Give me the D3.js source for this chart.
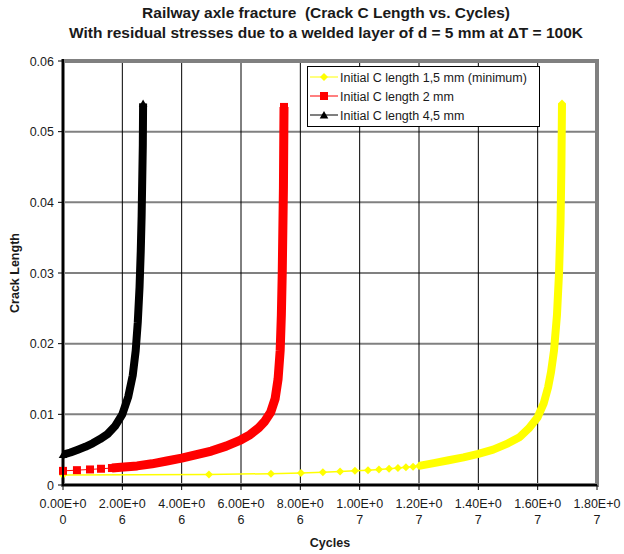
<!DOCTYPE html>
<html lang="en">
<head>
    <meta charset="UTF-8">
    <title>Railway axle fracture</title>
    <script src="https://d3js.org/d3.v7.js"></script>
    <style>
        body { margin: 0; background: white; }
        svg text { font-family: "Liberation Sans", Arial, sans-serif; fill: #1a1a1a; }
    </style>
</head>
<body>

<svg id="chart" width="624" height="554"></svg>

<script>

// Chart data (cycles, crack length)
var titleLines = ["Railway axle fracture  (Crack C Length vs. Cycles)",
                  "With residual stresses due to a welded layer of d = 5 mm at \u0394T = 100K"];

var yTicks = [0, 0.01, 0.02, 0.03, 0.04, 0.05, 0.06];
var yTickLabels = ["0", "0.01", "0.02", "0.03", "0.04", "0.05", "0.06"];
var xTicks = [0, 2e6, 4e6, 6e6, 8e6, 1e7, 1.2e7, 1.4e7, 1.6e7, 1.8e7];
var xTickLabels = [["0.00E+0", "0"], ["2.00E+0", "6"], ["4.00E+0", "6"], ["6.00E+0", "6"], ["8.00E+0", "6"],
                   ["1.00E+0", "7"], ["1.20E+0", "7"], ["1.40E+0", "7"], ["1.60E+0", "7"], ["1.80E+0", "7"]];

var seriesNames = ["Initial C length 1,5 mm (minimum)", "Initial C length 2 mm", "Initial C length 4,5 mm"];

// 1,5 mm : separate markers first, then the packed part
var yellowSparse = [[0, 0.0014], [4.92e6, 0.0015], [7.01e6, 0.0016], [8.02e6, 0.0017], [8.76e6, 0.0018],
                    [9.34e6, 0.0019], [9.84e6, 0.0020], [10.28e6, 0.0021], [10.65e6, 0.0022], [10.99e6, 0.0023],
                    [11.29e6, 0.0024], [11.56e6, 0.0025], [11.80e6, 0.0026], [12.0e6, 0.0027]];
var yellowDense = [[12.0e6, 0.0027], [12.5e6, 0.0031], [13.0e6, 0.0035], [13.5e6, 0.0039], [14.0e6, 0.0044],
                   [14.5e6, 0.0050], [15.0e6, 0.0059], [15.4e6, 0.0068], [15.7e6, 0.0080], [16.0e6, 0.0096],
                   [16.2e6, 0.0115], [16.35e6, 0.0138], [16.45e6, 0.0160], [16.55e6, 0.019], [16.65e6, 0.024],
                   [16.72e6, 0.030], [16.77e6, 0.037], [16.80e6, 0.045], [16.82e6, 0.054]];

// 2 mm
var redSparse = [[0, 0.0020], [0.47e6, 0.0021], [0.91e6, 0.0022], [1.28e6, 0.0023], [1.65e6, 0.0024]];
var redDense = [[1.65e6, 0.0024], [1.95e6, 0.0025], [2.5e6, 0.0027], [3.0e6, 0.0030], [3.5e6, 0.0034],
                [4.0e6, 0.0038], [4.5e6, 0.0043], [5.0e6, 0.0048], [5.5e6, 0.0055], [6.0e6, 0.0064],
                [6.3e6, 0.0071], [6.6e6, 0.0081], [6.8e6, 0.0090], [7.0e6, 0.0103], [7.15e6, 0.0122],
                [7.25e6, 0.0150], [7.32e6, 0.019], [7.36e6, 0.024], [7.39e6, 0.030], [7.41e6, 0.036],
                [7.43e6, 0.042], [7.44e6, 0.048], [7.45e6, 0.0535]];

// 4,5 mm (packed all the way)
var blackSparse = [[0, 0.0043]];
var blackDense = [[0, 0.0043], [0.25e6, 0.0046], [0.5e6, 0.0050], [0.75e6, 0.0054], [1.0e6, 0.0059],
                  [1.25e6, 0.0065], [1.5e6, 0.0072], [1.75e6, 0.0083], [2.0e6, 0.0100], [2.2e6, 0.0125],
                  [2.35e6, 0.0155], [2.45e6, 0.019], [2.52e6, 0.023], [2.58e6, 0.028], [2.62e6, 0.033],
                  [2.65e6, 0.038], [2.67e6, 0.043], [2.69e6, 0.048], [2.70e6, 0.054]];

// The svg
var svg = d3.select("#chart");
var plotLeft = 63, plotRight = 597, plotTop = 61, plotBottom = 485;

var x = d3.scaleLinear().domain([0, 1.8e7]).range([plotLeft, plotRight]);
var y = d3.scaleLinear().domain([0, 0.06]).range([plotBottom, plotTop]);

// Title
svg.selectAll("text.title")
    .data(titleLines)
    .enter()
    .append("text")
      .attr("class", "title")
      .attr("x", 326)
      .attr("y", function (d, i) { return 18 + i * 20; })
      .attr("text-anchor", "middle")
      .style("white-space", "pre")
      .style("font-size", "15.5px")
      .style("font-weight", "bold")
      .text(function (d) { return d; });

// Grid lines: horizontal grey, vertical black
svg.append("g")
    .selectAll("line")
    .data(yTicks.slice(1))
    .enter()
    .append("line")
      .attr("x1", plotLeft).attr("x2", plotRight)
      .attr("y1", function (d) { return y(d); })
      .attr("y2", function (d) { return y(d); })
      .attr("stroke", "#808080")
      .attr("stroke-width", 2);

svg.append("g")
    .selectAll("line")
    .data(xTicks.slice(1, -1))
    .enter()
    .append("line")
      .attr("x1", function (d) { return x(d); })
      .attr("x2", function (d) { return x(d); })
      .attr("y1", plotTop).attr("y2", plotBottom)
      .attr("stroke", "black")
      .attr("stroke-width", 1);

// Grey plot frame (top and right show)
svg.append("rect")
    .attr("x", plotLeft).attr("y", plotTop)
    .attr("width", plotRight - plotLeft).attr("height", plotBottom - plotTop)
    .attr("fill", "none")
    .attr("stroke", "#808080")
    .attr("stroke-width", 4);

// Series
var line = d3.line()
    .x(function (d) { return x(d[0]); })
    .y(function (d) { return y(d[1]); });

var series = [
    {name: seriesNames[0], color: "#ffff00", sparse: yellowSparse, dense: yellowDense, shape: "diamond", band: 8, thin: 1.5},
    {name: seriesNames[1], color: "#ff0000", sparse: redSparse, dense: redDense, shape: "square", band: 9, thin: 1},
    {name: seriesNames[2], color: "#000000", sparse: blackSparse, dense: blackDense, shape: "triangle", band: 8, thin: 1}
];

function markerPath(shape) {
    if (shape === "square") return d3.symbol(d3.symbolSquare, 64)();
    if (shape === "triangle") return d3.symbol(d3.symbolTriangle, 32)();
    return d3.symbol(d3.symbolSquare, 32)();
}

function markerTransform(shape, px, py) {
    if (shape === "diamond") return "translate(" + px + "," + py + ") rotate(45)";
    if (shape === "triangle") return "translate(" + px + "," + (py + 1) + ")";
    return "translate(" + px + "," + py + ")";
}

series.forEach(function (s) {
    var g = svg.append("g");
    // thin connecting line through the separate markers
    g.append("path")
        .attr("d", line(s.sparse))
        .attr("fill", "none")
        .attr("stroke", s.color)
        .attr("stroke-width", s.thin);
    // packed markers make a solid band
    g.append("path")
        .attr("d", line(s.dense))
        .attr("fill", "none")
        .attr("stroke", s.color)
        .attr("stroke-width", s.band)
        .attr("stroke-linejoin", "round");
    g.selectAll("path.mk")
        .data(s.sparse.concat(s.dense.slice(-1)))
        .enter()
        .append("path")
          .attr("class", "mk")
          .attr("d", markerPath(s.shape))
          .attr("transform", function (d) { return markerTransform(s.shape, x(d[0]), y(d[1])); })
          .attr("fill", s.color);
});

// Axes (black, left and bottom)
svg.append("line")
    .attr("x1", plotLeft).attr("x2", plotLeft).attr("y1", plotTop - 2).attr("y2", plotBottom + 1)
    .attr("stroke", "black").attr("stroke-width", 2);
svg.append("line")
    .attr("x1", plotLeft).attr("x2", plotRight).attr("y1", plotBottom).attr("y2", plotBottom)
    .attr("stroke", "black").attr("stroke-width", 2);

// y ticks and labels
var yg = svg.append("g");
yg.selectAll("line")
    .data(yTicks)
    .enter()
    .append("line")
      .attr("x1", plotLeft - 5).attr("x2", plotLeft)
      .attr("y1", function (d) { return y(d); })
      .attr("y2", function (d) { return y(d); })
      .attr("stroke", "black");
yg.selectAll("text")
    .data(yTicks)
    .enter()
    .append("text")
      .attr("x", plotLeft - 9)
      .attr("y", function (d) { return y(d) + 4.5; })
      .attr("text-anchor", "end")
      .style("font-size", "12.5px")
      .text(function (d, i) { return yTickLabels[i]; });

// x ticks and labels
var xg = svg.append("g");
xg.selectAll("line")
    .data(xTicks)
    .enter()
    .append("line")
      .attr("x1", function (d) { return x(d); })
      .attr("x2", function (d) { return x(d); })
      .attr("y1", plotBottom).attr("y2", plotBottom + 5)
      .attr("stroke", "black");
xTicks.forEach(function (d, i) {
    xTickLabels[i].forEach(function (t, j) {
        xg.append("text")
            .attr("x", x(d))
            .attr("y", 508 + j * 16)
            .attr("text-anchor", "middle")
            .style("font-size", "12.5px")
            .text(t);
    });
});

// Axis titles
svg.append("text")
    .attr("x", (plotLeft + plotRight) / 2)
    .attr("y", 547)
    .attr("text-anchor", "middle")
    .style("font-size", "12.5px")
    .style("font-weight", "bold")
    .text("Cycles");

svg.append("text")
    .attr("transform", "translate(19," + ((plotTop + plotBottom) / 2) + ") rotate(-90)")
    .attr("text-anchor", "middle")
    .style("font-size", "12.5px")
    .style("font-weight", "bold")
    .text("Crack Length");

// Legend
var legend = svg.append("g");
legend.append("rect")
    .attr("x", 307.5).attr("y", 66.5)
    .attr("width", 232).attr("height", 60)
    .attr("fill", "white")
    .attr("stroke", "black")
    .attr("stroke-width", 1);

series.forEach(function (s, i) {
    var ly = 77 + i * 19;
    legend.append("line")
        .attr("x1", 310).attr("x2", 338)
        .attr("y1", ly).attr("y2", ly)
        .attr("stroke", s.color)
        .attr("stroke-width", 1);
    legend.append("path")
        .attr("d", markerPath(s.shape))
        .attr("transform", markerTransform(s.shape, 324, ly))
        .attr("fill", s.color);
    legend.append("text")
        .attr("x", 340)
        .attr("y", ly + 4.5)
        .style("font-size", "12.5px")
        .text(s.name);
});

</script>
</body>
</html>
